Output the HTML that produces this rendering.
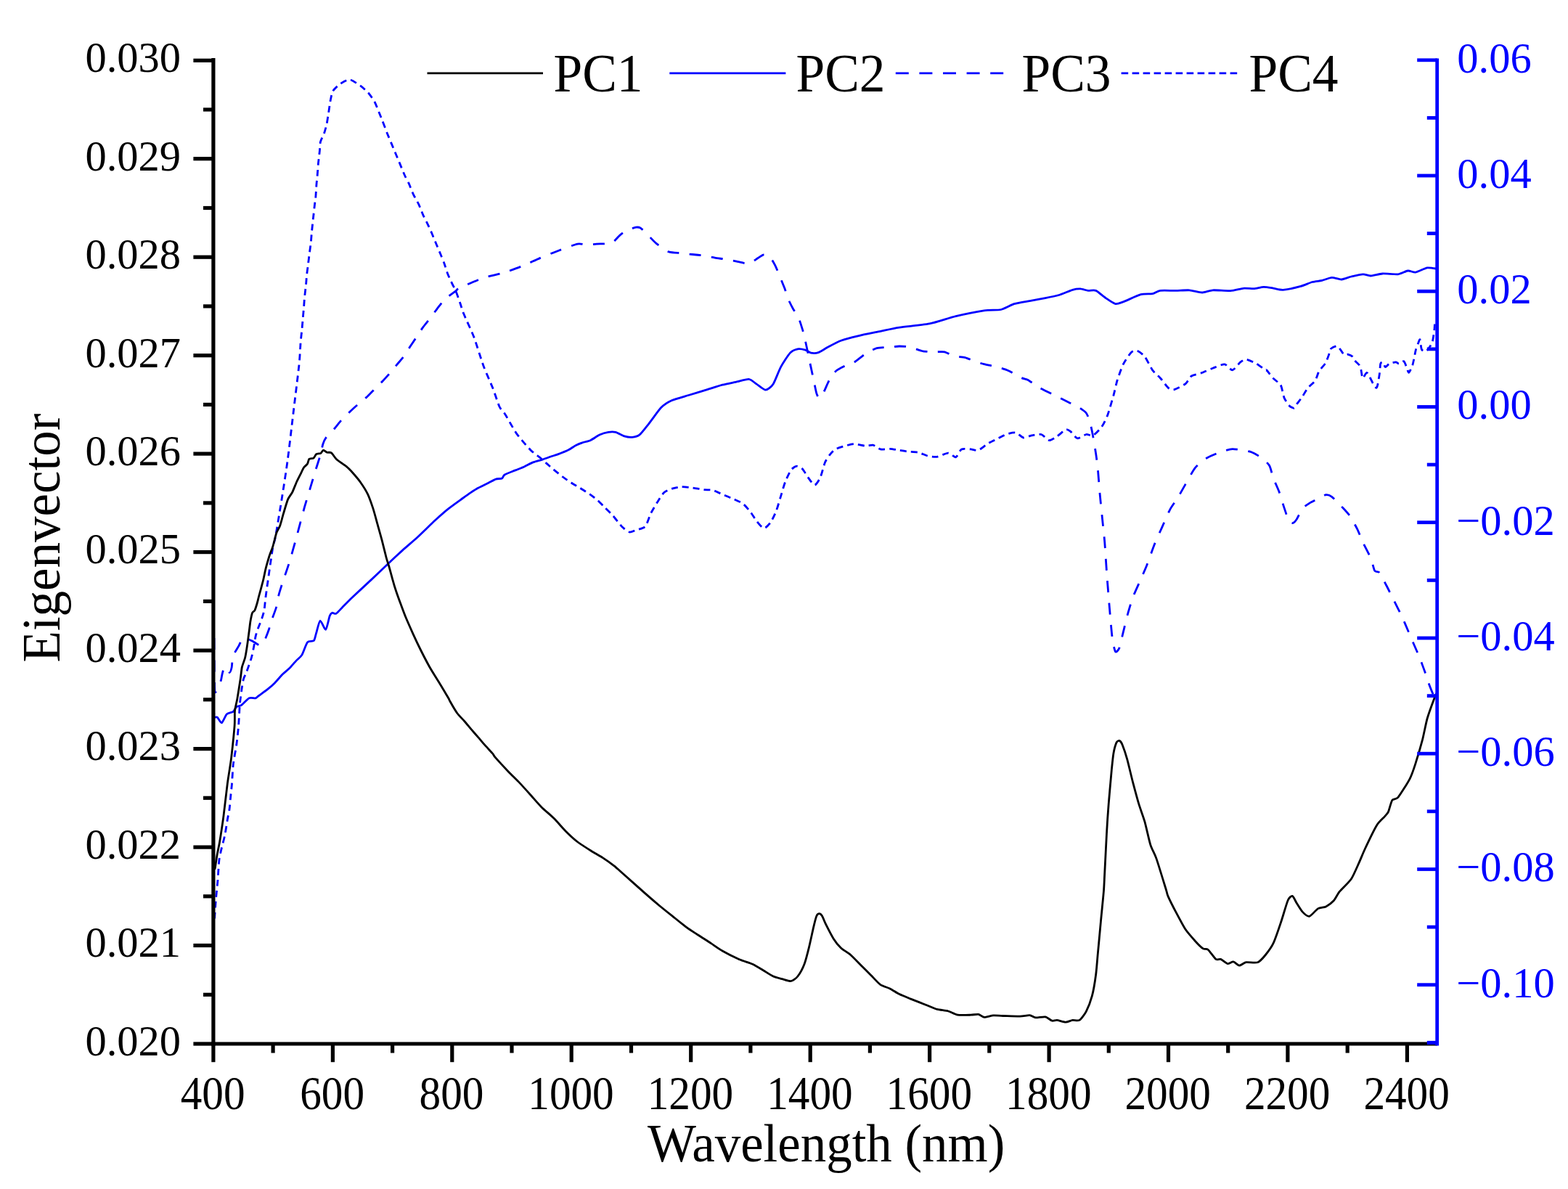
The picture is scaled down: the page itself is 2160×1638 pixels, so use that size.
<!DOCTYPE html>
<html><head><meta charset="utf-8"><title>Eigenvector vs Wavelength</title>
<style>html,body{margin:0;padding:0;background:#fff;overflow:hidden;}svg{display:block;}text{font-family:"Liberation Serif","Times New Roman",serif;}</style></head><body>
<svg width="2160" height="1638" viewBox="0 0 2160 1638">
<rect width="2160" height="1638" fill="#fff"/>
<g fill="none" stroke-linejoin="round" stroke-linecap="butt">
<path d="M294.9,982.6 C294.9,983.2 294.4,987.5 294.9,988.1 C295.4,988.7 298.1,987.2 299.3,988.1 C300.5,989 303.8,996.3 305.3,995.8 C306.8,995.3 310.6,985.5 312.5,983.7 C314.4,981.9 319.8,981.6 321.3,980.4 C322.8,979.2 324.4,974.8 325.7,973.8 C327,972.8 330.3,973 332.3,971.6 C334.3,970.2 340.9,962.9 343.2,961.8 C345.5,960.7 350.5,962.2 352,961.8 C353.5,961.4 354.5,959.9 356.4,958.5 C358.3,957.1 365.9,951.8 368.5,949.7 C371.1,947.6 376,943.3 378.4,940.9 C380.8,938.5 387.1,931.1 389.4,928.8 C391.7,926.5 396,923.3 398.2,921.1 C400.4,918.9 406,912.3 408.1,910.1 C410.2,907.9 414,905.4 415.8,902.4 C417.6,899.4 421.6,887.1 423.5,884.8 C425.4,882.5 430.9,884 432.3,882.6 C433.7,881.2 434.5,875.9 435.5,872.7 C436.5,869.5 439.5,855.8 441,855.2 C442.5,854.6 447.2,868.1 448.7,867.3 C450.2,866.5 453.2,851.3 454.2,848.6 C455.2,845.9 456.5,844.6 457.5,844.2 C458.5,843.8 461.3,846.2 463,845.3 C464.7,844.4 469.2,839.1 471.8,836.5 C474.4,833.9 480.5,827.6 485,823.3 C489.5,819 504.4,805.2 510.4,799.6 C516.4,794 531.2,779.8 536.3,775 C541.4,770.2 550,762.2 554.5,758.1 C559,754 569.9,744.9 575.2,740 C580.5,735.1 595,720.9 600,716.3 C605,711.7 614,703.8 618.3,700.4 C622.6,697 633,689.6 636.6,687 C640.2,684.4 646.2,680.1 648.8,678.4 C651.4,676.7 655.7,673.9 658.6,672.3 C661.5,670.7 670.5,666.4 673.3,665 C676.1,663.6 680.9,660.8 683,660.1 C685.1,659.4 690.2,659.6 691.6,658.9 C693,658.2 693.1,655.3 695.2,654 C697.3,652.7 706.8,649.2 709.9,647.9 C713,646.6 719.3,644.3 722.1,643 C724.9,641.7 731.5,638 734.3,636.9 C737.1,635.8 743.7,634.2 746.5,633.3 C749.3,632.4 756.1,629.9 758.7,629 C761.3,628.1 765.6,627 768.5,625.9 C771.4,624.8 780.4,621.2 783.2,619.8 C786,618.4 790.8,614.8 792.9,613.7 C795,612.6 799.1,611 801.5,610.1 C803.9,609.2 810.9,607.7 813.7,606.4 C816.5,605.1 823.1,600.4 825.9,599.1 C828.7,597.8 835.5,595.8 838.1,595.4 C840.7,595 845.3,594.8 847.9,595.4 C850.5,596 857.3,600.1 860,600.9 C862.7,601.7 868.2,602.5 870.7,602.3 C873.2,602.1 878.4,601.1 881.1,598.9 C883.8,596.7 890.6,587.7 894.1,583.3 C897.6,578.9 907.3,565 910.9,561.3 C914.5,557.6 920.8,553.7 925.2,551.7 C929.6,549.7 942.8,546.2 948.5,544.5 C954.2,542.8 969,538.4 974.4,536.7 C979.8,535 990.7,531.4 995.2,530.2 C999.7,529 1009.1,527.2 1013.3,526.3 C1017.5,525.4 1028.2,522.1 1031.5,522.4 C1034.8,522.7 1039.2,527.2 1041.9,528.9 C1044.6,530.6 1052.1,537.2 1054.8,537.2 C1057.5,537.2 1062.8,532.6 1065.2,528.9 C1067.6,525.2 1072.9,510.6 1075.6,505.6 C1078.3,500.6 1085.8,489 1088.5,486.1 C1091.2,483.2 1096.5,481.4 1098.9,480.9 C1101.3,480.4 1107.2,481.6 1109.3,482.2 C1111.4,482.8 1114.9,485.7 1117,486.1 C1119.1,486.5 1124.7,486.5 1127.4,485.6 C1130.1,484.7 1136.8,480.2 1140.4,478.3 C1144,476.4 1153.7,471.1 1158.5,469.3 C1163.3,467.5 1175.5,464.3 1181.9,462.8 C1188.3,461.3 1206.3,457.7 1213,456.3 C1219.7,454.9 1231,452.3 1238.9,451.1 C1246.8,449.9 1271.3,447.7 1280.4,445.9 C1289.5,444.1 1307.9,437.7 1316.7,435.6 C1325.5,433.5 1348.3,428.9 1355.6,427.8 C1362.9,426.7 1374.1,427.6 1378.9,426.5 C1383.7,425.4 1392.4,420.1 1397,418.7 C1401.6,417.3 1413.4,415.5 1418.4,414.6 C1423.4,413.7 1435.2,411.5 1439.9,410.6 C1444.6,409.7 1454.3,407.8 1458.7,406.5 C1463.1,405.2 1474.1,400.3 1477.5,399.3 C1480.9,398.3 1485.7,397.8 1488.2,397.9 C1490.7,398 1496.5,400.1 1499,400.4 C1501.5,400.7 1506.9,399.2 1509.7,400.4 C1512.5,401.6 1520.1,408.5 1523.2,410.6 C1526.3,412.7 1533.8,418 1536.6,418.6 C1539.4,419.2 1543.2,417.4 1547.3,415.9 C1551.4,414.4 1566.8,407 1571.5,405.7 C1576.2,404.4 1584.5,405.3 1587.6,404.7 C1590.7,404.1 1594.5,400.9 1598.3,400.4 C1602.1,399.9 1615.1,400.5 1619.8,400.4 C1624.5,400.3 1634.4,399.5 1638.6,399.8 C1642.8,400.1 1652.3,403 1656.1,403 C1659.9,403 1666.3,400.1 1670.8,399.8 C1675.3,399.5 1690,400.9 1695,400.6 C1700,400.3 1710,397.4 1713.8,397.1 C1717.6,396.8 1724.1,397.9 1727.2,397.7 C1730.3,397.5 1737.6,395.4 1740.7,395.3 C1743.8,395.2 1751,396.6 1754.1,397.1 C1757.2,397.6 1763.1,399.6 1767.5,399.3 C1771.9,399 1787,395.7 1791.7,394.4 C1796.4,393.1 1804.4,389.4 1807.8,388.5 C1811.2,387.6 1818.1,387.1 1821.2,386.4 C1824.3,385.7 1831.5,382.6 1834.6,382.4 C1837.7,382.2 1845,385.2 1848.1,385 C1851.2,384.8 1858.1,381.8 1861.5,381 C1864.9,380.2 1874.5,377.9 1877.6,377.8 C1880.7,377.7 1885.2,380.1 1888.3,380 C1891.4,379.9 1900.1,377.3 1904.5,377 C1908.9,376.7 1921.8,378.3 1925.9,377.8 C1930,377.3 1936.6,373.3 1939.4,373 C1942.2,372.7 1947,375.6 1950.1,375.1 C1953.2,374.6 1962.8,369.5 1966.2,368.9 C1969.6,368.3 1978,370.1 1979.6,370.3" stroke="#0000ff" stroke-width="2.8"/>
<path d="M295,879 C295,883.2 295.2,906.4 295.3,915 C295.4,923.6 295.4,949.4 296,953 C296.6,956.6 299.8,947.4 300.8,945.5 C301.8,943.6 303.9,939 304.5,936.9 C305.1,934.8 305.7,929.9 306.3,927.8 C306.9,925.7 308.3,918.8 309.4,918.6 C310.5,918.4 315,926.4 316.1,926.5 C317.2,926.6 318.5,922.4 319.1,919.8 C319.7,917.2 319.9,907.5 321,904 C322.1,900.5 327.3,892.8 328.9,889.9 C330.5,887 332.9,879.9 335,879 C337.1,878.1 343.9,881.4 346.6,882.6 C349.3,883.8 355.9,889 358,889 C360.1,889 362.9,885.1 364.3,882.6 C365.7,880.1 369.5,869.9 370.4,867.3 C371.3,864.7 371.7,861.8 372.2,860 C372.7,858.2 374.1,854.6 375.1,851.9 C376.1,849.2 379.6,840.2 380.6,836.5 C381.6,832.8 383,823.7 383.9,820 C384.8,816.3 386.8,810.2 388.5,804.8 C390.2,799.4 396.6,781.3 398.9,773.7 C401.2,766.1 407.1,744.9 408.5,740 C409.9,735.1 409.3,736.8 410.6,731.9 C411.9,727 417.6,705.2 419.6,698.2 C421.6,691.2 425.6,678.3 427.4,672.2 C429.2,666.1 433.5,651.7 435.2,646.3 C436.9,640.9 440.6,629.6 441.7,625.6 C442.8,621.6 444,614.6 444.8,612 C445.6,609.4 446.9,605.8 448.8,603.3 C450.7,600.8 458.3,593.3 460.7,590.5 C463.1,587.7 467.3,582.1 469.6,579.6 C471.9,577.1 477.8,571.2 480.4,568.7 C483,566.2 489.5,560.2 492.3,557.8 C495.1,555.4 501.5,550.3 504.2,547.9 C506.9,545.5 512.5,539.6 515.1,537 C517.7,534.4 524.4,527.8 526.9,525.2 C529.4,522.6 534.5,517 536.8,514.3 C539.1,511.6 544.4,505.2 546.7,502.4 C549,499.6 554.4,493.6 556.6,490.6 C558.8,487.6 563.7,479.5 565.6,476.6 C567.5,473.7 570.9,468.6 572.9,465.6 C574.9,462.6 580.4,454 582.7,450.9 C585,447.8 590.1,441.7 592.4,438.7 C594.7,435.7 599.8,428.4 602.2,425.3 C604.6,422.2 610.2,414.7 613.2,411.9 C616.2,409.1 625.8,402.6 627.9,400.9 C630,399.2 630.1,398.1 631.5,397.2 C632.9,396.3 636,395.3 640,393.6 C644,391.9 659.8,384.8 665.9,382.8 C672,380.8 685.8,378.1 691.9,376.3 C698,374.5 711.8,369.6 717.8,367.2 C723.8,364.8 737.7,358.2 743.7,355.6 C749.7,353 763.5,347.5 769.6,345.2 C775.7,342.9 791.1,337 795.6,336.1 C800.1,335.2 805.5,337.4 808.5,337.4 C811.5,337.4 817.6,336.4 821.5,336.1 C825.4,335.8 838.4,336.2 842.2,334.8 C846,333.4 851.5,326.1 853.9,324.1 C856.3,322.1 860.4,318.9 863,317.6 C865.6,316.3 873.6,313.6 875.9,313.2 C878.2,312.8 880.4,312.9 882.4,314.2 C884.4,315.5 890.2,321.6 892.8,324.1 C895.4,326.6 901.1,333 904.4,335.7 C907.7,338.4 917.4,345.4 921.3,346.9 C925.2,348.4 934.4,348.3 938.2,348.7 C942,349.1 950.1,350.1 953.7,350.5 C957.3,350.9 965.7,351.6 969.3,352.1 C972.9,352.6 981.2,354.6 984.8,355.2 C988.4,355.8 996.8,356.7 1000.4,357.3 C1004,357.9 1012.3,359.7 1015.9,360.4 C1019.5,361.1 1028.2,363.6 1031.5,363 C1034.8,362.4 1042.1,356.6 1044.5,355.2 C1046.9,353.8 1050.4,351 1052.2,350.8 C1054,350.6 1058.2,351.4 1060,353.1 C1061.8,354.8 1066.1,362.3 1067.8,365.6 C1069.5,368.9 1072.8,377.5 1074.3,381.1 C1075.8,384.7 1079.3,393.1 1080.7,396.7 C1082.1,400.3 1084.5,408.9 1085.9,412.2 C1087.3,415.5 1090.7,422.2 1092.4,425.2 C1094.1,428.2 1098.7,434.9 1100.2,438.2 C1101.7,441.5 1104.3,450.1 1105.4,453.7 C1106.5,457.3 1108.4,465.4 1109.3,469.3 C1110.2,473.2 1112.3,483.2 1113.2,487.4 C1114.1,491.6 1116.1,501.4 1117,505.6 C1117.9,509.8 1120,519.5 1120.9,523.7 C1121.8,527.9 1123.9,539 1124.8,541.9 C1125.7,544.8 1127.6,548.3 1128.7,548.3 C1129.8,548.3 1132.2,544.9 1133.9,541.9 C1135.6,538.9 1140.9,526 1143,522.4 C1145.1,518.8 1149.3,513 1152,510.7 C1154.7,508.4 1163.4,504.4 1166.3,503 C1169.2,501.6 1173.7,500.9 1176.7,499.1 C1179.7,497.3 1188.6,489.7 1192.2,487.4 C1195.8,485.1 1203.9,480.7 1207.8,479.6 C1211.7,478.5 1222.3,478.6 1225.9,478.3 C1229.5,478 1235.6,477 1238.9,477 C1242.2,477 1250.9,477.5 1254.5,478.3 C1258.1,479.1 1266.1,482.7 1270,483.5 C1273.9,484.3 1284.6,484.6 1288.2,484.8 C1291.8,485 1298.1,484.1 1301.1,484.8 C1304.1,485.5 1310.8,489.6 1314.1,490.5 C1317.4,491.4 1326.3,491.7 1329.6,492.6 C1332.9,493.5 1339.6,496.7 1342.6,497.8 C1345.6,498.9 1352,500.8 1355.6,501.7 C1359.2,502.6 1369.8,504.6 1373.7,505.6 C1377.6,506.7 1385.4,509 1389.3,510.7 C1393.2,512.4 1403.9,519 1407,520.5 C1410.1,522 1412.8,521.7 1415.7,523.3 C1418.6,524.9 1427.5,531.6 1431.9,534.1 C1436.3,536.6 1448.6,542.5 1453.3,544.8 C1458,547.1 1468.3,552.3 1472.1,554.2 C1475.9,556.1 1482.8,559.2 1485.6,560.9 C1488.4,562.6 1494.4,566.5 1496.3,569 C1498.2,571.5 1500.6,578.6 1501.7,582.4 C1502.8,586.2 1504.8,596.2 1505.7,601.2 C1506.6,606.2 1508.9,620.1 1509.7,625.4 C1510.5,630.7 1511.8,640.5 1512.4,646.9 C1513,653.3 1514.3,671.7 1515.1,680.3 C1515.9,688.9 1518.3,712.8 1519.1,720.6 C1519.9,728.4 1521.2,739.6 1521.8,747.4 C1522.4,755.2 1523.9,778.9 1524.5,787.7 C1525.1,796.5 1526.6,814.8 1527.2,822.6 C1527.8,830.4 1529.3,847.9 1529.9,854.8 C1530.5,861.7 1531.8,876.7 1532.6,881.7 C1533.4,886.7 1535.5,896.6 1536.6,897.8 C1537.7,899 1540.8,895.5 1542,892.4 C1543.2,889.3 1545.9,876.5 1547.3,870.9 C1548.7,865.3 1552.4,849.7 1554,844.1 C1555.6,838.5 1558.8,827.6 1560.7,822.6 C1562.6,817.6 1567.9,806.1 1570.1,801.1 C1572.3,796.1 1577.1,785.6 1579.5,779.6 C1581.9,773.6 1587.8,756.4 1590.3,750.1 C1592.8,743.8 1598.5,731.5 1601,725.9 C1603.5,720.3 1609.3,706.5 1611.8,701.8 C1614.3,697.1 1620,689.7 1622.5,685.6 C1625,681.5 1630.4,671.7 1633.2,666.9 C1636,662.1 1643.2,648.4 1646.7,644.2 C1650.2,640 1658.7,633.3 1662.8,630.8 C1666.9,628.3 1677.5,624.1 1681.6,622.7 C1685.7,621.3 1693,618.8 1697.7,618.7 C1702.4,618.6 1717.2,620.8 1721.9,622.2 C1726.6,623.6 1734.9,628.5 1738,630.8 C1741.1,633.1 1746.8,638.2 1748.7,641.5 C1750.6,644.8 1752.5,654.6 1754.1,658.8 C1755.7,663 1760.4,672.9 1762.1,677.6 C1763.8,682.3 1767.3,694.4 1768.9,699.1 C1770.5,703.8 1774.2,715.4 1775.6,717.9 C1777,720.4 1779.7,720.9 1780.9,720.6 C1782.1,720.3 1784.7,717.6 1786.3,715.2 C1787.9,712.8 1792.2,703.1 1794.4,700.4 C1796.6,697.7 1802.6,694 1805.1,692.4 C1807.6,690.8 1813.3,688.3 1815.8,687 C1818.3,685.7 1824.4,681.9 1826.6,681.6 C1828.8,681.3 1832.1,682.4 1834.6,684.3 C1837.1,686.2 1845.3,694.7 1848.1,697.7 C1850.9,700.7 1856.3,706.2 1858.8,709.8 C1861.3,713.4 1867.4,724.2 1869.6,728.6 C1871.8,733 1875.4,742.7 1877.6,747.4 C1879.8,752.1 1886.4,764.4 1888.3,768.9 C1890.2,773.4 1892.3,784 1893.7,786.3 C1895.1,788.6 1898.5,786.6 1900.4,789 C1902.3,791.4 1907.4,802 1909.8,806.5 C1912.2,811 1918.1,823 1920.6,828 C1923.1,833 1929.1,844.8 1931.3,849.5 C1933.5,854.2 1937.5,863.9 1939.4,868.3 C1941.3,872.7 1945.5,882.6 1947.4,887 C1949.3,891.4 1953.6,901.1 1955.5,905.8 C1957.4,910.5 1961.9,922.9 1963.5,927.3 C1965.1,931.7 1967.6,939.9 1968.9,943.4 C1970.2,946.9 1973.4,954.7 1974.3,956.9 C1975.2,959.1 1976.7,961.4 1977,962" stroke="#0000ff" stroke-width="2.8" stroke-dasharray="16 14.5"/>
<path d="M295.6,1265.5 C295.8,1262.4 296.9,1245.1 297.4,1238.9 C297.9,1232.7 299.5,1218.6 300,1212.4 C300.5,1206.2 301.3,1190.5 301.8,1185.8 C302.3,1181.1 303.6,1175.8 304.5,1171.7 C305.4,1167.6 308.8,1155.4 309.8,1150.4 C310.8,1145.4 312.6,1133.3 313.3,1129.2 C314,1125.1 315.5,1118.7 316,1115 C316.5,1111.3 317.3,1101.4 317.7,1097.3 C318.1,1093.2 319.1,1084.8 319.5,1079.6 C319.9,1074.4 320.6,1059.3 321.3,1053.1 C322,1046.9 324.8,1032.7 325.7,1026.5 C326.6,1020.3 328.1,1006.1 328.6,1000 C329.1,993.9 329.8,978.1 330.1,973.8 C330.4,969.5 330.8,966.1 331.2,962.9 C331.6,959.7 332.9,949.6 333.4,946.4 C333.9,943.2 334.9,937.6 335.5,935.4 C336.1,933.2 338,929.6 338.8,927.7 C339.6,925.8 341.2,921.5 342.1,918.9 C343,916.3 345.6,909 346.5,905.7 C347.4,902.4 349.2,893.6 349.8,890.3 C350.4,887 351.4,879.9 352,877.1 C352.6,874.3 354.3,869.1 355.3,866.2 C356.3,863.3 359.8,855 360.8,851.9 C361.8,848.8 363.5,843.5 364.1,839.8 C364.7,836.1 365,829.8 366.3,820 C367.6,810.2 374.1,764.9 375.6,755.6 C377.1,746.3 377.9,748.1 379.4,739.9 C380.9,731.7 386.5,697.6 388.5,685.2 C390.5,672.8 394.5,646.9 396.3,633.3 C398.1,619.7 402.3,583.6 404.1,568.5 C405.9,553.4 410.8,514 411.9,503.7 C413,493.4 413.3,483.9 413.6,480 C413.9,476.1 413.9,473.6 414.2,470.5 C414.5,467.4 415.6,457.1 416,453.4 C416.4,449.7 416.9,442.1 417.2,438.7 C417.5,435.3 418.2,427.7 418.5,424.1 C418.8,420.5 419.3,411.9 419.7,408.2 C420.1,404.5 421.1,395.9 421.5,392.3 C421.9,388.7 422.3,381.1 422.7,377.7 C423.1,374.3 424.2,366.4 424.6,363 C425,359.6 426,351.7 426.4,348.4 C426.8,345.1 427.8,338.3 428.2,334.9 C428.6,331.5 429.1,322.9 429.5,319.1 C429.9,315.3 430.8,306.6 431.3,302 C431.8,297.4 433.3,283.5 433.7,280 C434.1,276.5 434.5,275.1 434.8,272 C435.1,268.9 435.7,257.3 436,253.7 C436.3,250.1 436.9,244.9 437.2,241.5 C437.5,238.1 438.1,228.2 438.5,224.4 C438.9,220.6 439.9,212 440.3,208.6 C440.7,205.2 440.8,198 441.5,195.1 C442.2,192.2 445.4,186.9 446.4,184.1 C447.4,181.3 449.4,174 450.1,170.7 C450.8,167.4 451.9,159.6 452.5,156 C453.1,152.4 454.2,143.8 454.9,140.2 C455.6,136.6 457,128.3 458.6,125.5 C460.2,122.7 465.7,117.6 468.4,115.8 C471.1,114 478.5,109.4 481.8,109.7 C485.1,110 493.5,116.1 496.5,118.2 C499.5,120.3 505.1,125.4 507.4,128 C509.7,130.6 514.3,137.1 516,140.2 C517.7,143.3 520.8,151.7 522.1,154.8 C523.4,157.9 525.7,163.7 527,167 C528.3,170.3 531.7,179.3 533.1,182.9 C534.5,186.5 537.8,194.2 539.2,197.6 C540.6,201 543.9,208.8 545.3,212.2 C546.7,215.6 550,223.5 551.4,226.9 C552.8,230.3 556.1,238.4 557.5,241.5 C558.9,244.6 562.2,250.6 563.6,253.7 C565,256.8 568.1,265.1 569.7,268.4 C571.3,271.7 575.5,278.6 577,281.8 C578.5,285 581.3,292.8 582.7,295.9 C584.1,299 587.4,305.1 588.8,308.1 C590.2,311.1 593.5,318.2 594.9,321.5 C596.3,324.8 599.6,332.8 601,336.2 C602.4,339.6 605.8,347.7 607.1,350.8 C608.4,353.9 610.9,359.9 612,363 C613.1,366.1 615.6,374.4 616.9,377.7 C618.2,381 621.7,388.4 623,391.1 C624.3,393.8 626.6,397.8 627.9,400.9 C629.2,404 632.7,414.3 634,418 C635.3,421.7 636.7,427.1 638.9,432.6 C641.1,438.1 649.9,456.5 653,464.8 C656.1,473.1 662.9,495.5 665.9,503.7 C668.9,511.9 676.3,528.2 678.9,534.8 C681.5,541.4 686,555.9 687.9,560 C689.8,564.1 693.3,567 695.2,569.8 C697.1,572.6 701.9,581.3 703.8,584.4 C705.7,587.5 709.1,593.8 711.1,596.6 C713.1,599.4 718.5,606 720.9,608.8 C723.3,611.6 729.3,618.6 731.9,621 C734.5,623.4 740.5,627.6 742.9,629.6 C745.3,631.6 750.3,636.1 752.6,638.1 C754.9,640.1 759.8,644.6 762.4,646.7 C765,648.8 771.8,654.4 774.6,656.5 C777.4,658.6 784,663.2 786.8,665 C789.6,666.8 796,670.4 799,672.3 C802,674.2 809.7,678.9 812.5,680.9 C815.3,682.9 821,687.3 823.4,689.4 C825.8,691.5 830.8,696.8 833.2,699.2 C835.6,701.6 841.8,707.5 844.2,710.2 C846.6,712.9 852.4,720.5 854,722.4 C855.6,724.3 856.3,725.3 857.8,726.5 C859.3,727.7 864.8,732.5 866.9,733 C869,733.5 873.3,731.3 875.9,730.4 C878.5,729.5 886.5,727.9 888.9,725.2 C891.3,722.5 894.7,710.9 896.7,707 C898.7,703.1 903.6,694.8 905.7,691.5 C907.8,688.2 912.5,680.6 914.8,678.5 C917.1,676.4 922.5,674.2 925.2,673.3 C927.9,672.4 934.9,670.9 938.2,670.7 C941.5,670.5 950.1,671.5 953.7,672 C957.3,672.5 966,674.2 969.3,674.6 C972.6,675 979.2,674.6 982.2,675.4 C985.2,676.2 991.9,679.7 995.2,681.1 C998.5,682.5 1007.4,686.1 1010.7,687.6 C1014,689.1 1021,692 1023.7,694.1 C1026.4,696.2 1032,703 1034.1,705.7 C1036.2,708.4 1039.8,714.8 1041.9,717.4 C1044,720 1049.9,727.5 1052.2,727.8 C1054.5,728.1 1059.3,722.7 1061.3,720 C1063.3,717.3 1067.4,708.6 1069.1,704.4 C1070.8,700.2 1074.1,688.5 1075.6,683.7 C1077.1,678.9 1080.3,667.2 1082,663 C1083.7,658.8 1088,649.8 1089.8,647.4 C1091.6,645 1095.8,642.4 1097.6,642.2 C1099.4,642 1103.6,644.3 1105.4,646.1 C1107.2,647.9 1111.2,655.2 1113.2,657.8 C1115.2,660.4 1120.2,668.2 1122.2,668.2 C1124.2,668.2 1128.3,661.4 1130,657.8 C1131.7,654.2 1135,640.6 1136.5,637 C1138,633.4 1141.3,628.8 1143,626.7 C1144.7,624.6 1148.3,620.3 1150.7,618.9 C1153.1,617.5 1160.7,615.4 1163.7,614.5 C1166.7,613.6 1173.4,611.6 1176.7,611.6 C1180,611.6 1189.2,614 1192.2,614.2 C1195.2,614.4 1200.2,612.7 1202.6,613.2 C1205,613.7 1210.3,618.3 1213,618.9 C1215.7,619.5 1222.9,618.2 1225.9,618.4 C1228.9,618.6 1236.2,619.8 1238.9,620.2 C1241.6,620.6 1246.3,621.6 1249.3,622 C1252.3,622.4 1261.5,622.6 1264.8,623.3 C1268.1,624 1274.8,627.3 1277.8,628 C1280.8,628.7 1287.5,629.8 1290.8,629.3 C1294.1,628.8 1303.3,624 1306.3,624.1 C1309.3,624.2 1314.6,630.4 1316.7,629.8 C1318.8,629.2 1322.1,620.2 1324.5,618.9 C1326.9,617.6 1334.7,618.7 1337.4,618.9 C1340.1,619.1 1345.1,621.1 1347.8,620.2 C1350.5,619.3 1357.8,612.9 1360.8,611.1 C1363.8,609.3 1370.7,606.1 1373.7,604.6 C1376.7,603.1 1383.7,599.1 1386.7,598.1 C1389.7,597.1 1396.9,595.5 1399.6,596.1 C1402.3,596.7 1407.5,602.6 1410,603 C1412.5,603.4 1418.2,600.4 1421.1,599.9 C1424,599.4 1431.7,597.7 1434.5,598.5 C1437.3,599.3 1442.8,606.3 1445.3,606.6 C1447.8,606.9 1453.3,602.9 1456,601.2 C1458.7,599.5 1465.9,592.6 1468.1,591.8 C1470.3,591 1472.9,593.1 1474.8,594.5 C1476.7,595.9 1481.7,603.4 1484.2,603.9 C1486.7,604.4 1493.8,599 1496.3,598.5 C1498.8,598 1503.2,601.1 1505.7,599.9 C1508.2,598.7 1515.5,591.1 1517.8,587.8 C1520.1,584.5 1523.9,576.7 1525.8,571.7 C1527.7,566.7 1532.3,550.4 1533.9,544.8 C1535.5,539.2 1537.7,528.3 1539.3,523.3 C1540.9,518.3 1545.1,506.3 1547.3,501.9 C1549.5,497.5 1555.9,487.9 1558.1,485.7 C1560.3,483.5 1563.9,482.5 1566.1,483.1 C1568.3,483.7 1574.4,488 1576.9,491.1 C1579.4,494.2 1585.1,506.4 1587.6,509.9 C1590.1,513.4 1595.8,517.9 1598.3,520.7 C1600.8,523.5 1606.9,532.2 1609.1,534.1 C1611.3,536 1614.3,537.4 1617.1,536.8 C1619.9,536.2 1630.4,530.9 1633.2,528.7 C1636,526.5 1638.8,519.7 1641.3,518 C1643.8,516.3 1651.3,515.2 1654.7,513.9 C1658.1,512.6 1667,508.6 1670.8,507.2 C1674.6,505.8 1683.8,501.6 1686.9,501.9 C1690,502.2 1695.2,510.2 1697.7,509.9 C1700.2,509.6 1706.2,500.9 1708.4,499.2 C1710.6,497.5 1714,494.9 1716.5,495.1 C1719,495.3 1726.8,498.8 1729.9,500.5 C1733,502.2 1741.6,508.8 1743.4,509.9 C1745.2,511 1743.8,508.7 1745,510 C1746.2,511.3 1751.7,518.8 1753.9,521.1 C1756.1,523.4 1762.3,527.7 1763.9,530 C1765.5,532.3 1766.6,538.9 1767.2,541.1 C1767.8,543.3 1768.4,546.8 1769.4,548.9 C1770.4,551 1774.5,557.3 1776.1,558.9 C1777.7,560.5 1781.5,562.6 1782.8,562.2 C1784.1,561.8 1785.9,557.4 1787.2,555.6 C1788.5,553.8 1792.2,549.2 1793.9,546.7 C1795.6,544.2 1799.6,537 1801.7,534.4 C1803.8,531.8 1809.9,527.1 1811.7,524.4 C1813.5,521.7 1815.5,513.9 1817.2,511.1 C1818.9,508.3 1824.4,503 1826.1,500 C1827.8,497 1830.8,487.9 1831.7,485.6 C1832.6,483.3 1832.7,481 1833.9,480 C1835.1,479 1840.3,476.6 1841.7,476.7 C1843.1,476.8 1844.9,479.7 1846.1,481.1 C1847.3,482.5 1850.4,488.1 1851.7,488.9 C1853,489.7 1855.9,488 1857.2,488.3 C1858.5,488.6 1861.8,490.1 1862.8,491.1 C1863.8,492.1 1864.9,495.3 1866.1,496.7 C1867.3,498.1 1871.8,501.7 1872.8,503.3 C1873.8,504.9 1874.5,507.9 1875,510 C1875.5,512.1 1876.3,520.7 1877.2,521.1 C1878.1,521.5 1881.5,513.2 1882.8,513.3 C1884.1,513.4 1887.3,520.4 1888.3,522.2 C1889.3,524 1890.8,527.5 1891.7,528.9 C1892.6,530.3 1895.3,534.5 1896.1,534.4 C1896.9,534.3 1897.8,530.3 1898.3,527.8 C1898.8,525.3 1900.2,516.4 1900.6,513.3 C1901,510.2 1901.2,502.8 1901.7,501.1 C1902.2,499.4 1904.2,498.4 1905,498.9 C1905.8,499.4 1907.3,505.3 1908.3,505.6 C1909.3,505.9 1912.2,501.9 1913.9,501.1 C1915.6,500.3 1921.2,498.9 1922.8,498.9 C1924.4,498.9 1925.9,501.2 1927.2,501.1 C1928.5,501 1932.6,497 1933.9,497.8 C1935.2,498.6 1937.5,506 1938.3,507.8 C1939.1,509.6 1939.9,513.3 1940.6,513.3 C1941.3,513.3 1943.3,509.1 1943.9,507.8 C1944.5,506.5 1945.6,504 1946.1,502.2 C1946.6,500.4 1947.8,494.7 1948.3,492.2 C1948.8,489.7 1949.9,483.4 1950.6,481.1 C1951.3,478.8 1953.3,473.8 1953.9,472.2 C1954.5,470.6 1955.6,466.8 1956.1,467.8 C1956.6,468.8 1957.5,479.2 1958.3,481.1 C1959.1,483 1961.8,484.4 1962.8,484.4 C1963.8,484.4 1966,482.5 1967.2,481.1 C1968.4,479.7 1971.9,474.5 1972.8,472.2 C1973.7,469.9 1974.6,463.4 1975,461.1 C1975.4,458.8 1975.9,454.5 1976.1,452.2 C1976.3,449.9 1976.6,442.4 1976.7,441.1" stroke="#0000ff" stroke-width="2.8" stroke-dasharray="8.8 6.2"/>
<path d="M295.5,1198 C295.6,1197.6 296.1,1197.2 296.5,1194.7 C296.9,1192.2 298.5,1181.1 299.2,1177 C299.9,1172.9 301.7,1165.5 302.7,1159.3 C303.7,1153.1 306.8,1133.2 308,1123.9 C309.2,1114.6 312.1,1088.9 313.3,1079.6 C314.5,1070.3 317.5,1053.5 318.6,1044.2 C319.7,1034.9 322.5,1007.6 323.1,1000 C323.7,992.4 323.1,983.6 323.5,979.3 C323.9,975 325.9,968 326.8,962.9 C327.7,957.8 330.4,940.5 331.2,935.4 C332,930.3 332.6,922.4 333.4,918.9 C334.2,915.4 336.8,909.6 337.7,905.7 C338.6,901.9 340.4,890.1 341,885.9 C341.6,881.7 342.7,873 343.2,869.5 C343.7,866 344.4,859.3 344.9,856.3 C345.4,853.3 346.9,846 347.6,844.2 C348.3,842.4 350.1,842.4 350.9,840.9 C351.7,839.4 353.5,833.4 354.2,831 C354.9,828.6 356,823.6 357,820 C358,816.4 361.3,804.3 362.4,800 C363.5,795.7 365.1,787.2 366.1,783.2 C367.1,779.2 369.9,769.6 371,766 C372.1,762.4 374.8,756.3 375.9,752.6 C377,748.9 379.7,737.6 380.8,734.3 C381.9,731 384.5,727.6 385.6,724.5 C386.7,721.4 389.2,711.7 390.5,707.4 C391.8,703.1 395.2,691.3 396.6,687.9 C398,684.5 401.3,680.9 402.7,678.1 C404.1,675.3 407.4,666.6 408.8,663.5 C410.2,660.4 413.8,653.6 414.9,651.3 C416,649 417.6,645.4 418.6,644 C419.6,642.6 422.6,640.5 423.5,639.1 C424.4,637.7 424.9,633.3 425.9,632.4 C426.9,631.5 430.9,631.9 432,631.1 C433.1,630.3 434.6,626.4 435.7,625.6 C436.8,624.8 440.7,625 441.8,624.4 C442.9,623.8 444.5,620.2 445.5,620.1 C446.5,620 449.1,622.8 450.4,623.2 C451.7,623.6 454.9,622.7 456.5,623.8 C458.1,624.9 461.4,630.8 463.8,633 C466.2,635.2 474.6,640.6 477.2,642.7 C479.8,644.8 483.5,648.7 485.8,651.3 C488.1,653.9 494.4,661.3 496.8,664.7 C499.2,668.1 504.5,676.5 506.5,680.6 C508.5,684.7 512.2,695.3 513.8,700.1 C515.4,704.9 518.6,717 520,722.1 C521.4,727.2 524.7,738.7 526.1,744.1 C527.5,749.5 531.1,764.3 532.2,768.5 C533.3,772.7 534.8,776.5 535.8,780 C536.8,783.5 539.7,794.3 540.8,798.3 C541.9,802.3 544.3,810.4 545.6,814.2 C546.9,818.1 550.1,827 551.7,831.3 C553.3,835.6 557.1,846 559.1,850.8 C561.1,855.6 566.4,867.5 568.8,872.8 C571.2,878.1 577.1,890.6 579.8,896 C582.5,901.4 589,913.9 592,919.2 C595,924.5 602.5,936.3 605.5,941.2 C608.5,946.1 615.9,958.6 617.6,961.5 C619.3,964.4 618.6,963.8 620,966.3 C621.4,968.8 627.5,979.4 629.8,982.5 C632.1,985.6 637.2,990.6 639.5,993.2 C641.8,995.8 647,1002.2 649.3,1004.9 C651.6,1007.6 656.8,1013.6 659.1,1016.2 C661.4,1018.8 666.5,1024.8 668.8,1027.4 C671.1,1030 677,1036.2 678.6,1038.1 C680.2,1040 680,1040.8 682.5,1043.7 C685,1046.6 696.1,1058.6 700,1062.7 C703.9,1066.8 712.2,1074.7 715.9,1078.6 C719.6,1082.5 728.2,1092.1 731.7,1096 C735.2,1099.9 742.3,1108.2 746,1111.9 C749.7,1115.6 759.6,1123.9 763.5,1127.8 C767.4,1131.7 775.7,1141.5 779.4,1145.2 C783.1,1148.9 791.1,1156.3 795.2,1159.5 C799.3,1162.7 810.2,1169.6 814.3,1172.2 C818.4,1174.8 826.5,1179.3 830.2,1181.7 C833.9,1184.1 842.7,1190.3 846,1192.9 C849.3,1195.5 853.7,1199.6 858.7,1204 C863.7,1208.4 883.3,1225.9 888.9,1230.9 C894.5,1235.9 902.5,1242.7 907,1246.5 C911.5,1250.3 923.3,1259.7 927.8,1263.3 C932.3,1266.9 942,1274.7 945.9,1277.6 C949.8,1280.5 957.6,1285.4 961.5,1288 C965.4,1290.6 975.7,1297 979.6,1299.6 C983.5,1302.2 990.7,1307.4 995.2,1310 C999.7,1312.6 1013.7,1319.6 1018.5,1321.7 C1023.3,1323.8 1032.8,1326.4 1036.7,1328.2 C1040.6,1330 1048.9,1335.2 1052.2,1337.2 C1055.5,1339.2 1062.2,1343.6 1065.2,1345 C1068.2,1346.4 1075.3,1348.1 1078.2,1348.9 C1081.1,1349.7 1087.4,1352 1089.8,1351.5 C1092.2,1351 1096.8,1347.7 1098.9,1345 C1101,1342.3 1106.2,1332.9 1108,1328.2 C1109.8,1323.5 1113,1310.9 1114.5,1304.8 C1116,1298.7 1119.7,1281.3 1120.9,1276.3 C1122.1,1271.3 1123.9,1264.1 1124.8,1262 C1125.7,1259.9 1127.8,1258.7 1128.7,1258.7 C1129.6,1258.7 1131.5,1260.2 1132.6,1262 C1133.7,1263.8 1136,1270.1 1137.8,1273.7 C1139.6,1277.3 1145.8,1289.4 1148.2,1293.2 C1150.6,1297 1155.8,1303.5 1158.5,1306.1 C1161.2,1308.7 1168.2,1312.3 1171.5,1315.2 C1174.8,1318.1 1183.7,1327.4 1187,1330.7 C1190.3,1334 1197,1340.7 1200,1343.7 C1203,1346.7 1210,1354.6 1213,1356.7 C1216,1358.8 1222.9,1360.4 1225.9,1361.9 C1228.9,1363.4 1235.6,1367.9 1238.9,1369.6 C1242.2,1371.3 1250,1374.3 1254.5,1376.1 C1259,1377.9 1273.6,1383.5 1277.8,1385.2 C1282,1386.9 1287.5,1389.5 1290.8,1390.4 C1294.1,1391.3 1303,1392.1 1306.3,1393 C1309.6,1393.9 1315.7,1397.6 1319.3,1398.2 C1322.9,1398.8 1334.1,1398.3 1337.4,1398.2 C1340.7,1398.1 1345.7,1397 1347.8,1397.4 C1349.9,1397.8 1353.2,1401.1 1355.6,1401.3 C1358,1401.5 1365.5,1399.1 1368.5,1398.9 C1371.5,1398.7 1377.2,1399.4 1381.5,1399.5 C1385.8,1399.6 1400.7,1400.2 1405,1400.1 C1409.3,1400 1415.9,1398.5 1418.4,1398.7 C1420.9,1398.9 1424,1401.6 1426.5,1401.9 C1429,1402.2 1437.2,1400.4 1439.9,1400.9 C1442.6,1401.4 1447.4,1405.7 1449.3,1406.2 C1451.2,1406.7 1453.8,1405.2 1456,1405.4 C1458.2,1405.6 1465.6,1408.1 1468.1,1408.1 C1470.6,1408.1 1475.3,1405.7 1477.5,1405.4 C1479.7,1405.1 1484.7,1406.8 1486.9,1405.4 C1489.1,1404 1494.3,1397.2 1496.3,1393.3 C1498.3,1389.4 1502.8,1377.9 1504.4,1371.9 C1506,1366 1508.8,1349.2 1509.7,1342.3 C1510.6,1335.4 1511.6,1321.3 1512.4,1312.8 C1513.2,1304.3 1515.5,1279.8 1516.4,1269.8 C1517.3,1259.8 1519.9,1234.8 1520.5,1226.9 C1521.1,1219 1521.3,1210.9 1521.8,1201.7 C1522.3,1192.5 1523.9,1159 1524.5,1148 C1525.1,1137 1526.4,1117.7 1527.2,1107.7 C1528,1097.7 1530.4,1070.1 1531.2,1062 C1532,1053.9 1533.1,1042.4 1533.9,1037.9 C1534.7,1033.4 1537,1025.1 1537.9,1023.1 C1538.8,1021.1 1541.1,1020.1 1542,1020.4 C1542.9,1020.7 1544.8,1022.8 1546,1025.8 C1547.2,1028.8 1551,1039.8 1552.7,1045.9 C1554.4,1052 1558.8,1071 1560.7,1078.2 C1562.6,1085.4 1566.9,1101.4 1568.8,1107.7 C1570.7,1114 1575,1125.3 1576.9,1131.9 C1578.8,1138.5 1583,1158.1 1584.9,1164.1 C1586.8,1170 1590.5,1175.7 1593,1182.9 C1595.5,1190.1 1604.5,1219.7 1606.4,1225.8 C1608.3,1231.9 1607.5,1231.3 1609.1,1234.9 C1610.7,1238.5 1617,1251.1 1619.8,1256.4 C1622.6,1261.7 1630.1,1275.9 1633.2,1280.6 C1636.3,1285.3 1643.9,1293.6 1646.7,1296.7 C1649.5,1299.8 1655.4,1305.6 1657.4,1306.9 C1659.4,1308.2 1662.1,1306.5 1664.1,1308.2 C1666.1,1309.9 1672.9,1319.9 1674.9,1321.4 C1676.9,1322.9 1679.7,1320.7 1681.6,1321.4 C1683.5,1322.1 1689,1327.2 1691,1327.6 C1693,1328 1697.1,1324.6 1699,1324.9 C1700.9,1325.2 1705.1,1330.1 1707.1,1330.2 C1709.1,1330.3 1713.5,1326.2 1716.5,1325.7 C1719.5,1325.2 1729.5,1326.9 1732.6,1325.7 C1735.7,1324.5 1740.8,1318.6 1743.3,1315.5 C1745.8,1312.4 1751.6,1304.7 1754.1,1299.4 C1756.6,1294.1 1762.5,1276.7 1764.8,1269.8 C1767.1,1262.9 1772.4,1244.4 1774.2,1240.3 C1776,1236.2 1779,1233.9 1780.4,1234.4 C1781.8,1234.9 1784.7,1241.7 1786.3,1244.3 C1787.9,1246.9 1792.4,1254.3 1794.4,1256.4 C1796.4,1258.5 1801.3,1262.9 1803.8,1262.3 C1806.3,1261.7 1813.1,1253.2 1815.8,1251.6 C1818.5,1250 1824.1,1250.2 1826.6,1248.9 C1829.1,1247.6 1835.1,1243.2 1837.3,1240.8 C1839.5,1238.4 1842.6,1231.7 1845.4,1228.2 C1848.2,1224.7 1858.4,1215.4 1861.5,1210.7 C1864.6,1206 1870,1193.1 1872.2,1188.3 C1874.4,1183.5 1877.5,1175.5 1880.3,1169.5 C1883.1,1163.5 1893.3,1142.4 1896.4,1137.2 C1899.5,1132 1905.3,1127.3 1907.2,1125.1 C1909.1,1122.9 1911.3,1121.1 1912.5,1118.4 C1913.7,1115.7 1916.3,1104.6 1917.9,1102.3 C1919.5,1100 1923.2,1101.7 1926,1098.3 C1928.8,1094.9 1939.3,1078.3 1942.1,1072.8 C1944.9,1067.3 1948.1,1057.6 1950.1,1051.3 C1952.1,1045 1957.6,1026.3 1959.5,1019.1 C1961.4,1011.9 1964.3,996.1 1966.2,989.5 C1968.1,982.9 1974.1,966.7 1975.6,962.7 C1977.1,958.7 1978.6,955.9 1979,955" stroke="#000" stroke-width="2.8"/>
</g>
<g stroke="#000" stroke-width="5.2" fill="none">
<line x1="293.9" y1="80.0" x2="293.9" y2="1440.6"/>
<line x1="291.29999999999995" y1="1438.0" x2="1979.7" y2="1438.0"/>
<line x1="266.4" y1="1438" x2="293.9" y2="1438"/>
<line x1="266.4" y1="1302.5" x2="293.9" y2="1302.5"/>
<line x1="266.4" y1="1167.1" x2="293.9" y2="1167.1"/>
<line x1="266.4" y1="1031.6" x2="293.9" y2="1031.6"/>
<line x1="266.4" y1="896.1" x2="293.9" y2="896.1"/>
<line x1="266.4" y1="760.6" x2="293.9" y2="760.6"/>
<line x1="266.4" y1="625.1" x2="293.9" y2="625.1"/>
<line x1="266.4" y1="489.7" x2="293.9" y2="489.7"/>
<line x1="266.4" y1="354.2" x2="293.9" y2="354.2"/>
<line x1="266.4" y1="218.7" x2="293.9" y2="218.7"/>
<line x1="266.4" y1="83.3" x2="293.9" y2="83.3"/>
<line x1="280.0" y1="1370.3" x2="293.9" y2="1370.3"/>
<line x1="280.0" y1="1234.8" x2="293.9" y2="1234.8"/>
<line x1="280.0" y1="1099.3" x2="293.9" y2="1099.3"/>
<line x1="280.0" y1="963.8" x2="293.9" y2="963.8"/>
<line x1="280.0" y1="828.4" x2="293.9" y2="828.4"/>
<line x1="280.0" y1="692.9" x2="293.9" y2="692.9"/>
<line x1="280.0" y1="557.4" x2="293.9" y2="557.4"/>
<line x1="280.0" y1="421.9" x2="293.9" y2="421.9"/>
<line x1="280.0" y1="286.5" x2="293.9" y2="286.5"/>
<line x1="280.0" y1="151" x2="293.9" y2="151"/>
<line x1="293.9" y1="1438.0" x2="293.9" y2="1463.2"/>
<line x1="458.4" y1="1438.0" x2="458.4" y2="1463.2"/>
<line x1="622.8" y1="1438.0" x2="622.8" y2="1463.2"/>
<line x1="787.2" y1="1438.0" x2="787.2" y2="1463.2"/>
<line x1="951.7" y1="1438.0" x2="951.7" y2="1463.2"/>
<line x1="1116.2" y1="1438.0" x2="1116.2" y2="1463.2"/>
<line x1="1280.6" y1="1438.0" x2="1280.6" y2="1463.2"/>
<line x1="1445.1" y1="1438.0" x2="1445.1" y2="1463.2"/>
<line x1="1609.5" y1="1438.0" x2="1609.5" y2="1463.2"/>
<line x1="1773.9" y1="1438.0" x2="1773.9" y2="1463.2"/>
<line x1="1938.4" y1="1438.0" x2="1938.4" y2="1463.2"/>
<line x1="376.1" y1="1438.0" x2="376.1" y2="1450.6"/>
<line x1="540.6" y1="1438.0" x2="540.6" y2="1450.6"/>
<line x1="705" y1="1438.0" x2="705" y2="1450.6"/>
<line x1="869.5" y1="1438.0" x2="869.5" y2="1450.6"/>
<line x1="1033.9" y1="1438.0" x2="1033.9" y2="1450.6"/>
<line x1="1198.4" y1="1438.0" x2="1198.4" y2="1450.6"/>
<line x1="1362.8" y1="1438.0" x2="1362.8" y2="1450.6"/>
<line x1="1527.3" y1="1438.0" x2="1527.3" y2="1450.6"/>
<line x1="1691.7" y1="1438.0" x2="1691.7" y2="1450.6"/>
<line x1="1856.2" y1="1438.0" x2="1856.2" y2="1450.6"/>
</g>
<g stroke="#0000ff" stroke-width="4.8" fill="none">
<line x1="1979.7" y1="80.5" x2="1979.7" y2="1440.6"/>
<line x1="1952.2" y1="82.8" x2="1979.7" y2="82.8"/>
<line x1="1952.2" y1="242" x2="1979.7" y2="242"/>
<line x1="1952.2" y1="401.3" x2="1979.7" y2="401.3"/>
<line x1="1952.2" y1="560.5" x2="1979.7" y2="560.5"/>
<line x1="1952.2" y1="719.7" x2="1979.7" y2="719.7"/>
<line x1="1952.2" y1="879" x2="1979.7" y2="879"/>
<line x1="1952.2" y1="1038.2" x2="1979.7" y2="1038.2"/>
<line x1="1952.2" y1="1197.5" x2="1979.7" y2="1197.5"/>
<line x1="1952.2" y1="1356.7" x2="1979.7" y2="1356.7"/>
<line x1="1965.8" y1="162.4" x2="1979.7" y2="162.4"/>
<line x1="1965.8" y1="321.6" x2="1979.7" y2="321.6"/>
<line x1="1965.8" y1="480.9" x2="1979.7" y2="480.9"/>
<line x1="1965.8" y1="640.1" x2="1979.7" y2="640.1"/>
<line x1="1965.8" y1="799.4" x2="1979.7" y2="799.4"/>
<line x1="1965.8" y1="958.6" x2="1979.7" y2="958.6"/>
<line x1="1965.8" y1="1117.8" x2="1979.7" y2="1117.8"/>
<line x1="1965.8" y1="1277.1" x2="1979.7" y2="1277.1"/>
<line x1="1965.8" y1="1436.3" x2="1979.7" y2="1436.3"/>
<line x1="1966" y1="1436.6" x2="1979.7" y2="1436.6"/>
</g>
<g font-size="58.5" fill="#000">
<text x="249" y="1453.8" text-anchor="end">0.020</text>
<text x="249" y="1318.3" text-anchor="end">0.021</text>
<text x="249" y="1182.9" text-anchor="end">0.022</text>
<text x="249" y="1047.4" text-anchor="end">0.023</text>
<text x="249" y="911.9" text-anchor="end">0.024</text>
<text x="249" y="776.4" text-anchor="end">0.025</text>
<text x="249" y="640.9" text-anchor="end">0.026</text>
<text x="249" y="505.5" text-anchor="end">0.027</text>
<text x="249" y="370" text-anchor="end">0.028</text>
<text x="249" y="234.5" text-anchor="end">0.029</text>
<text x="249" y="99.1" text-anchor="end">0.030</text>
</g>
<g font-size="62" fill="#000" text-anchor="middle">
<text transform="translate(293.1,1527.6) scale(0.955,1.065)">400</text>
<text transform="translate(457.6,1527.6) scale(0.955,1.065)">600</text>
<text transform="translate(622,1527.6) scale(0.955,1.065)">800</text>
<text transform="translate(786.5,1527.6) scale(0.955,1.065)">1000</text>
<text transform="translate(950.9,1527.6) scale(0.955,1.065)">1200</text>
<text transform="translate(1115.4,1527.6) scale(0.955,1.065)">1400</text>
<text transform="translate(1279.8,1527.6) scale(0.955,1.065)">1600</text>
<text transform="translate(1444.3,1527.6) scale(0.955,1.065)">1800</text>
<text transform="translate(1608.7,1527.6) scale(0.955,1.065)">2000</text>
<text transform="translate(1773.1,1527.6) scale(0.955,1.065)">2200</text>
<text transform="translate(1937.6,1527.6) scale(0.955,1.065)">2400</text>
</g>
<g font-size="58.5" fill="#0000ff">
<text transform="translate(2007.3,99.6) scale(1,1.02)">0.06</text>
<text transform="translate(2007.3,258.8) scale(1,1.02)">0.04</text>
<text transform="translate(2007.3,418.1) scale(1,1.02)">0.02</text>
<text transform="translate(2007.3,577.3) scale(1,1.02)">0.00</text>
<text transform="translate(2006.3,736.5) scale(1,1.02)">−0.02</text>
<text transform="translate(2006.3,895.8) scale(1,1.02)">−0.04</text>
<text transform="translate(2006.3,1055) scale(1,1.02)">−0.06</text>
<text transform="translate(2006.3,1214.3) scale(1,1.02)">−0.08</text>
<text transform="translate(2006.3,1373.5) scale(1,1.02)">−0.10</text>
</g>
<g stroke-width="2.8" fill="none">
<line x1="588.5" y1="100.9" x2="748" y2="100.9" stroke="#000"/>
<line x1="922.3" y1="100.9" x2="1082.4" y2="100.9" stroke="#0000ff"/>
<line x1="1233.8" y1="100.9" x2="1393" y2="100.9" stroke="#0000ff" stroke-dasharray="18 14.6"/>
<line x1="1544.6" y1="100.9" x2="1704.6" y2="100.9" stroke="#0000ff" stroke-dasharray="9.6 5.4"/>
</g>
<g font-size="74" fill="#000">
<text transform="translate(762.5,125.9) scale(0.965,1)">PC1</text>
<text transform="translate(1096.5,125.9) scale(0.965,1)">PC2</text>
<text transform="translate(1407.5,125.9) scale(0.965,1)">PC3</text>
<text transform="translate(1720.5,125.9) scale(0.965,1)">PC4</text>
<text transform="translate(892,1599.8) scale(0.958,1)">Wavelength (nm)</text>
<text transform="translate(81.8,912.6) rotate(-90) scale(0.96,1)">Eigenvector</text>
</g>
</svg></body></html>
